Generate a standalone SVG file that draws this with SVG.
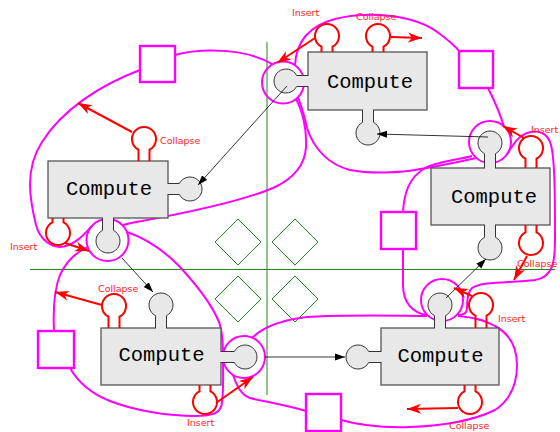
<svg xmlns="http://www.w3.org/2000/svg" width="560" height="432" viewBox="0 0 560 432">
<defs>
<marker id="ah" markerUnits="userSpaceOnUse" markerWidth="11" markerHeight="8" refX="10" refY="4" orient="auto"><path d="M0,0.5 L10,4 L0,7.5 z" fill="#000"/></marker>
<marker id="rh" markerUnits="userSpaceOnUse" markerWidth="15" markerHeight="12" refX="14" refY="6" orient="auto"><path d="M0,1 L14,6 L0,11 L4,6 z" fill="#f00"/></marker>
</defs>
<style>
.box{fill:#e8e8e8;stroke:#555;stroke-width:1.3}
.port{fill:#e8e8e8;stroke:#333;stroke-width:1}
.gap{fill:#e8e8e8}
.rport{fill:none;stroke:#f00;stroke-width:2}
.hull{fill:none;stroke:#f0f;stroke-width:2}
.sq{fill:#fff;stroke:#f0f;stroke-width:2.4}
.grid{stroke:#1a8a1a;stroke-width:1;fill:none}
.arr{stroke:#000;stroke-width:0.8;fill:none;marker-end:url(#ah)}
.rarr{stroke:#f00;stroke-width:2;fill:none;marker-end:url(#rh)}
.lbl{font-family:"DejaVu Sans",sans-serif;font-size:9.5px;fill:#f22}
.title{font-family:"Liberation Mono",monospace;font-size:20.5px;fill:#000;text-anchor:middle}
</style>
<rect width="560" height="432" fill="#fff"/>

<g id="grid">
<path class="grid" d="M267,42 V395 M30,269.5 H555"/>
<polygon class="grid" points="238,219 261,242 238,265 215,242"/>
<polygon class="grid" points="295,219 318,242 295,265 272,242"/>
<polygon class="grid" points="238,276 261,299 238,322 215,299"/>
<polygon class="grid" points="295,276 318,299 295,322 272,299"/>
</g>

<g id="hulls">
<path class="hull" d="M175,55 C200,48 245,48 272,64 M296,99 C302,110 307,128 306,147 C305,165 295,178 273,188 C240,202 180,214 142,221 C135,222 130,223 123,225 M92,226 C86,232 78,243 64,246.5 C52,249 40,240 36,225 C30,200 24,170 42,142 C62,110 100,85 140,70"/>
<path class="hull" d="M295,65 C296,45 305,27 335,19 C368,11 415,14 440,34 C448,40 455,46 459,51 M488,88 C494,100 500,112 504,127 M476,158 C458,162 440,166 420,169 C400,173 370,174 350,170 C330,165 314,150 307,128 C305,118 302,108 298,97"/>
<path class="hull" d="M403,212 C404,195 408,178 425,168 C440,161 458,160 472,156 M507,154 C512,148 516,137 527,133 C538,129 548,133 551,145 C555,160 555,200 555,240 C555,262 553,277 535,280 C510,283 482,281 472,288 C467,292 467,302 467,308 C467,313 463,315 458,315 M403,249 L403,285 C403,302 412,313 427,315"/>
<path class="hull" d="M341,420 C355,424 380,428 410,427 C440,426 470,422 495,410 C510,400 517,385 517,365 C517,345 508,333 495,326 C485,320 470,317 458,316 M427,316 C400,316 330,314 300,318 C280,321 262,328 252,338 M233,375 C237,386 241,395 250,398 C262,401 285,405 306,411"/>
<path class="hull" d="M54,331 C53,310 54,290 60,275 C66,262 76,252 88,247 M127,232 C145,238 163,250 178,265 C195,283 212,305 219,322 C223,332 223,345 223,357 C223,380 224,398 221,407 C218,414 210,416 195,416 C170,416 135,411 110,401 C92,394 78,382 70,368"/>
<circle class="hull" cx="283" cy="82.5" r="21"/>
<circle class="hull" cx="490" cy="142" r="21"/>
<circle class="hull" cx="442" cy="300" r="21"/>
<circle class="hull" cx="244" cy="357" r="21"/>
<circle class="hull" cx="107.5" cy="240" r="21"/>
</g>

<g id="square-1"><rect class="sq" x="140" y="46" width="35" height="36"/></g>
<g id="square-2"><rect class="sq" x="459" y="51" width="34" height="37"/></g>
<g id="square-3"><rect class="sq" x="381" y="212" width="35" height="37"/></g>
<g id="square-4"><rect class="sq" x="306" y="394" width="35" height="37"/></g>
<g id="square-5"><rect class="sq" x="38" y="331" width="36" height="37"/></g>

<g id="compute-top">
<rect class="box" x="308" y="52" width="119" height="58"/>
<path class="port" d="M308,75.5 L296.67,75.5 A12,12 0 1 0 296.67,86.5 L308,86.5"/>
<rect class="gap" x="307" y="76" width="3" height="10"/>
<path class="port" d="M362.5,110 L362.5,122.33 A12,12 0 1 0 373.5,122.33 L373.5,110"/>
<rect class="gap" x="363" y="108.5" width="10" height="3"/>
<text class="title" x="370" y="88">Compute</text>
</g>

<g id="compute-left">
<rect class="box" x="48" y="161" width="120" height="57"/>
<path class="port" d="M168,183.5 L179.33,183.5 A12,12 0 1 1 179.33,194.5 L168,194.5"/>
<rect class="gap" x="166.5" y="184" width="3" height="10"/>
<path class="port" d="M102.5,218 L102.5,230.33 A12,12 0 1 0 113.5,230.33 L113.5,218"/>
<rect class="gap" x="103" y="216.5" width="10" height="3"/>
<text class="title" x="109" y="195">Compute</text>
</g>

<g id="compute-bottom-left">
<rect class="box" x="101" y="328" width="120" height="57"/>
<path class="port" d="M155.5,328 L155.5,315.67 A12,12 0 1 1 166.5,315.67 L166.5,328"/>
<rect class="gap" x="156" y="326.5" width="10" height="3"/>
<path class="port" d="M221,351.5 L234.33,351.5 A12,12 0 1 1 234.33,362.5 L221,362.5"/>
<rect class="gap" x="219.5" y="352" width="3" height="10"/>
<text class="title" x="161.5" y="361">Compute</text>
</g>

<g id="compute-right">
<rect class="box" x="431" y="168" width="119" height="57"/>
<path class="port" d="M484.5,168 L484.5,153.67 A12,12 0 1 1 495.5,153.67 L495.5,168"/>
<rect class="gap" x="485" y="166.5" width="10" height="3"/>
<path class="port" d="M484.5,225 L484.5,237.33 A12,12 0 1 0 495.5,237.33 L495.5,225"/>
<rect class="gap" x="485" y="223.5" width="10" height="3"/>
<text class="title" x="494" y="203">Compute</text>
</g>

<g id="compute-bottom-right">
<rect class="box" x="381" y="328" width="118" height="57"/>
<path class="port" d="M381,351.5 L368.67,351.5 A12,12 0 1 0 368.67,362.5 L381,362.5"/>
<rect class="gap" x="379.5" y="352" width="3" height="10"/>
<path class="port" d="M434.5,328 L434.5,315.67 A12,12 0 1 1 445.5,315.67 L445.5,328"/>
<rect class="gap" x="435" y="326.5" width="10" height="3"/>
<text class="title" x="440.5" y="362">Compute</text>
</g>

<g id="connectors">
<path class="arr" d="M287,86 L198,185"/>
<path class="arr" d="M122,258 L153,292"/>
<path class="arr" d="M265,357 L345,357"/>
<path class="arr" d="M446,298 L486,259"/>
<path class="arr" d="M488,137 L377,134"/>
</g>

<g id="red-ports">
<path class="rport" d="M321.5,52 L321.5,46.67 A12,12 0 1 1 332.5,46.67 L332.5,52"/>
<path class="rport" d="M372.5,52 L372.5,46.67 A12,12 0 1 1 383.5,46.67 L383.5,52"/>
<path class="rport" d="M138.5,161 L138.5,149.67 A12,12 0 1 1 149.5,149.67 L149.5,161"/>
<path class="rport" d="M52.5,218 L52.5,222.33 A12,12 0 1 0 63.5,222.33 L63.5,218"/>
<path class="rport" d="M108.5,328 L108.5,316.67 A12,12 0 1 1 119.5,316.67 L119.5,328"/>
<path class="rport" d="M199.5,385 L199.5,391.33 A12,12 0 1 0 210.5,391.33 L210.5,385"/>
<path class="rport" d="M525.5,168 L525.5,158.67 A12,12 0 1 1 536.5,158.67 L536.5,168"/>
<path class="rport" d="M525.5,225 L525.5,232.33 A12,12 0 1 0 536.5,232.33 L536.5,225"/>
<path class="rport" d="M475.5,328 L475.5,315.67 A12,12 0 1 1 486.5,315.67 L486.5,328"/>
<path class="rport" d="M464.5,385 L464.5,391.33 A12,12 0 1 0 475.5,391.33 L475.5,385"/>
</g>

<g id="red-connectors">
<path class="rarr" d="M315,38 L277,63"/>
<path class="rarr" d="M391,37 L422,38"/>
<path class="rarr" d="M132,132 L78,103"/>
<path class="rarr" d="M65,243 L89,251"/>
<path class="rarr" d="M102,305 L55,292"/>
<path class="rarr" d="M216,403 L253,377"/>
<path class="rarr" d="M524,138 L503,126"/>
<path class="rarr" d="M527,256 L514,280"/>
<path class="rarr" d="M472,296 L454,288"/>
<path class="rarr" d="M458,408 L407,409"/>
</g>

<g id="labels">
<text class="lbl" x="292" y="16">Insert</text>
<text class="lbl" x="356" y="20">Collapse</text>
<text class="lbl" x="160" y="144">Collapse</text>
<text class="lbl" x="10" y="250">Insert</text>
<text class="lbl" x="98" y="292">Collapse</text>
<text class="lbl" x="187" y="426">Insert</text>
<text class="lbl" x="531" y="133">Insert</text>
<text class="lbl" x="517" y="267">Collapse</text>
<text class="lbl" x="498" y="322">Insert</text>
<text class="lbl" x="449" y="429">Collapse</text>
</g>
</svg>
